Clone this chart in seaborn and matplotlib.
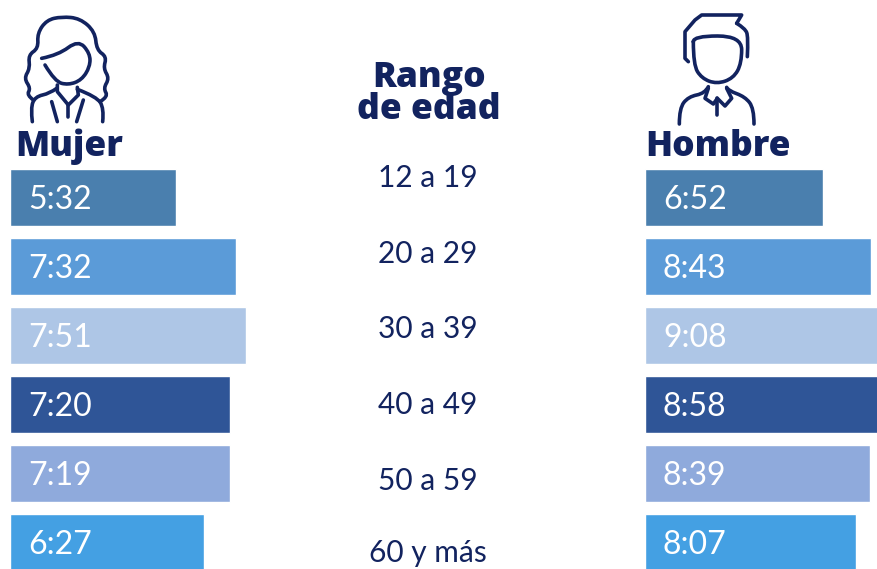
import numpy as np
import pandas as pd
import matplotlib
matplotlib.use("Agg")
import matplotlib.pyplot as plt
from matplotlib.path import Path
from matplotlib.patches import PathPatch
import seaborn as sns

# --- Datos ---
rangos = ["12 a 19", "20 a 29", "30 a 39", "40 a 49", "50 a 59", "60 y más"]
mujer = ["5:32", "7:32", "7:51", "7:20", "7:19", "6:27"]
hombre = ["6:52", "8:43", "9:08", "8:58", "8:39", "8:07"]
colores = ["#4a7fae", "#5b9bd8", "#aec6e6", "#2f5597", "#8faadc", "#44a0e3"]
AZUL = "#12235f"


def a_minutos(t):
    h, m = t.split(":")
    return int(h) * 60 + int(m)


df = pd.DataFrame({"rango": rangos,
                   "mujer": [a_minutos(t) for t in mujer],
                   "hombre": [a_minutos(t) for t in hombre]})

sns.set_theme(style="white")
plt.rcParams["font.family"] = ["Lato", "DejaVu Sans"]

W, H = 877, 569
fig = plt.figure(figsize=(W / 100, H / 100), dpi=100)


def panel(columna, etiquetas, x0, ancho, px_por_min):
    # ejes en pixeles de la figura
    ax = fig.add_axes([x0 / W, 0, ancho / W, 411 / H])
    sns.barplot(data=df, y="rango", x=columna, hue="rango", palette=colores,
                saturation=1, width=0.83, legend=False, ax=ax)
    ax.set_xlim(0, ancho / px_por_min)
    ax.set_ylim(5.385, -0.575)
    ax.axis("off")
    for i, t in enumerate(etiquetas):
        ax.text(18 / px_por_min, i + 0.03, t, color="white", fontsize=23,
                va="center", ha="left")
    return ax


panel("mujer", mujer, 10, 300, 0.5)
panel("hombre", hombre, 645, 232, 0.433)

# capa en pixeles para textos e iconos
capa = fig.add_axes([0, 0, 1, 1])
capa.set_xlim(0, W)
capa.set_ylim(H, 0)
capa.axis("off")
capa.patch.set_alpha(0)

fuerte = dict(color=AZUL, fontsize=25.5, fontweight=800, family=["Open Sans", "DejaVu Sans"])
capa.text(15, 147, "Mujer", va="center", **fuerte)
capa.text(645, 147, "Hombre", va="center", **fuerte)
capa.text(429, 94, "Rango\nde edad", ha="center", va="center", linespacing=0.88, **fuerte)
pos_rango = [178, 254, 329, 405, 481, 553]
for y, r in zip(pos_rango, rangos):
    capa.text(428, y, r, color=AZUL, fontsize=21.5, ha="center", va="center")


def trazo(puntos, ox, suave=True):
    p = np.array(puntos, dtype=float) / 3 + [ox, 0]
    if suave and len(p) > 2:
        verts = [p[0]]
        codes = [Path.MOVETO]
        for a, b in zip(p[1:-1], p[2:]):
            verts += [a, (a + b) / 2]
            codes += [Path.CURVE3, Path.CURVE3]
        verts[-1] = p[-1]
    else:
        verts = list(p)
        codes = [Path.MOVETO] + [Path.LINETO] * (len(p) - 1)
    capa.add_patch(PathPatch(Path(verts, codes), fill=False, edgecolor=AZUL, lw=2.6,
                             capstyle="round", joinstyle="round"))


# icono mujer
for puntos, suave in [
    ([(100, 300), (80, 285), (92, 265), (72, 235), (90, 205), (85, 165), (115, 145),
      (112, 100), (140, 60), (185, 50), (240, 55), (285, 95), (290, 150), (320, 170),
      (310, 205), (328, 235), (310, 265), (325, 290), (300, 305)], True),
    ([(125, 175), (175, 165), (235, 120), (270, 160), (270, 200), (245, 240), (205, 255),
      (165, 245), (135, 195)], True),
    ([(97, 365), (92, 325), (105, 290), (150, 280), (170, 265)], True),
    ([(232, 268), (290, 290), (312, 325), (308, 365)], True),
    ([(172, 255), (172, 275), (205, 315), (235, 285), (232, 262)], False),
    ([(203, 315), (203, 352)], False),
    ([(155, 305), (172, 365)], False),
    ([(250, 300), (230, 365)], False),
]:
    trazo(puntos, 0, suave)

# icono hombre
for puntos, suave in [
    ([(175, 185), (165, 175), (165, 95), (195, 60), (215, 45), (335, 45), (320, 70)], False),
    ([(320, 70), (345, 85), (355, 110), (352, 170)], True),
    ([(190, 125), (190, 108), (335, 108), (335, 190), (310, 235), (260, 252), (215, 235),
      (190, 195), (190, 125)], True),
    ([(148, 372), (148, 325), (175, 290), (225, 280), (235, 260)], True),
    ([(372, 372), (372, 325), (345, 290), (295, 272), (290, 262)], True),
    ([(235, 265), (225, 295), (250, 312), (262, 295), (285, 318), (305, 295), (290, 265)], False),
    ([(260, 295), (260, 345)], False),
]:
    trazo(puntos, 630, suave)

fig.savefig("out.png", dpi=100)
